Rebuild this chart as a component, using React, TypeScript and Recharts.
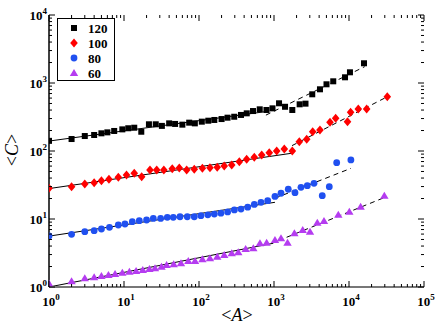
import React from 'react';
import { ComposedChart, Scatter, Line, XAxis, YAxis } from 'recharts';

// ---- data ----
const seriesNames = ['120', '100', '80', '60'];

const x120 = [1, 2, 3, 4, 5, 6, 7.4, 9.5, 11.4, 13.7, 17, 21.5, 26.5, 32, 40, 48, 60, 74, 88, 109, 133, 160, 200, 240, 295, 363, 433, 525, 645, 794, 955, 1167, 1403, 1754, 2198, 2630, 3236, 4102, 5012, 6166, 8850, 10300, 15850];
const y120 = [141, 150, 166, 172, 182, 188, 197, 208, 216, 220, 192, 247, 247, 234, 255, 250, 244, 261, 255, 270, 279, 286, 295, 309, 319, 339, 358, 387, 410, 401, 424, 503, 447, 401, 486, 497, 682, 808, 957, 1059, 1213, 1437, 1950];

const x100 = [1, 2, 3, 4, 5, 6.3, 8.4, 10.8, 13.7, 17.2, 22.2, 27.3, 34, 44, 54.6, 68.5, 86.5, 111, 140, 175, 217, 273, 345, 432, 546, 686, 865, 1086, 1372, 1754, 2175, 2730, 3281, 4100, 5580, 6640, 9550, 10500, 13300, 17200, 32400];
const y100 = [28.3, 29.9, 32.7, 34.2, 36.6, 38.4, 41, 44.4, 47, 41.9, 52.5, 52.5, 52.5, 55, 56, 52.5, 54, 55.7, 56.9, 57.6, 60, 62.2, 69.6, 75.5, 80.8, 87, 94.4, 100, 107, 100, 137, 149, 192, 204, 264, 302, 270, 371, 415, 415, 628];

const x80 = [1, 2, 3, 4, 5, 6.4, 8.4, 10.3, 12.9, 16, 20, 24.6, 30.8, 37.8, 45.4, 55.8, 69.8, 86.5, 106, 131, 160, 196, 241, 296, 363, 446, 546, 671, 824, 1030, 1240, 1550, 1905, 2290, 2780, 3415, 4400, 5460, 6850, 10600];
const y80 = [5.62, 5.96, 6.5, 6.73, 7.13, 7.55, 8.16, 8.44, 9.12, 9.44, 9.66, 10.2, 10.2, 10.6, 10.6, 10.8, 10.8, 10.8, 11.2, 11.5, 11.8, 12.2, 12.7, 13.6, 14.0, 14.9, 16.4, 17.6, 18.6, 21.5, 23.9, 27.4, 24.4, 29.2, 30.9, 33.5, 22, 29.9, 67.3, 73.8];

const x60 = [1, 2, 3, 4, 5, 6.2, 7.6, 9.5, 11.8, 14.5, 17.8, 21.8, 25.9, 31.6, 37, 46, 57.5, 72, 88.5, 111, 140, 175, 217, 273, 334, 419, 530, 650, 798, 1030, 1240, 1515, 1870, 2415, 3020, 3780, 4640, 7200, 10100, 14300, 29600];
const y60 = [1.13, 1.22, 1.34, 1.39, 1.45, 1.5, 1.55, 1.62, 1.68, 1.72, 1.78, 1.84, 1.88, 1.99, 2.11, 2.16, 2.23, 2.41, 2.41, 2.55, 2.64, 2.79, 2.95, 3.13, 3.24, 3.62, 3.71, 4.4, 4.48, 4.91, 5.2, 4.48, 6.16, 6.89, 6.5, 8.83, 9.34, 11.5, 12.8, 15.2, 22];

// fit lines: [x0, x1], [y0, y1]
const fit120SolidX = [1, 850];
const fit120SolidY = [140, 385];
const fit120DashX = [780, 16200];
const fit120DashY = [337, 1740];
const fit100SolidX = [1, 1700];
const fit100SolidY = [28, 92.5];
const fit100DashX = [1740, 32400];
const fit100DashY = [120, 628];
const fit80SolidX = [1, 1030];
const fit80SolidY = [5.6, 17.6];
const fit80DashX = [1030, 10600];
const fit80DashY = [20.2, 55.6];
const fit60SolidX = [1, 980];
const fit60SolidY = [1.0, 4.4];
const fit60DashX = [1140, 30000];
const fit60DashY = [4.8, 20.8];

const xMajorTicks = [1, 10, 100, 1000, 10000, 100000];
const yMajorTicks = [1, 10, 100, 1000, 10000];
const xTickExp = ['0', '1', '2', '3', '4', '5'];
const yTickExp = ['0', '1', '2', '3', '4'];

// ---- helpers ----
const zip = (xs: number[], ys: number[]) => xs.map((x, i) => ({ x, y: ys[i] }));
const minorTicks = (majors: number[]) => {
  const out: number[] = [];
  for (let i = 0; i < majors.length - 1; i++) {
    for (let k = 2; k <= 9; k++) out.push(majors[i] * k);
  }
  return out;
};

const W = 436, H = 327;
const LEFT = 49, RIGHT = 424, TOP = 15, BOTTOM = 287;
const FONT = '"Liberation Serif", "Times New Roman", serif';

const COLORS = { c120: '#000000', c100: '#ff0000', c80: '#2050f0', c60: '#b53cf0' };

const xAllTicks = [...xMajorTicks, ...minorTicks(xMajorTicks)].sort((a, b) => a - b);
const yAllTicks = [...yMajorTicks, ...minorTicks(yMajorTicks)].sort((a, b) => a - b);

const isMajor = (v: number, majors: number[]) => majors.some((m) => Math.abs(m - v) / m < 1e-9);

const XTick = (props: any) => {
  const { x, payload } = props;
  const v = payload.value;
  const major = isMajor(v, xMajorTicks);
  const len = major ? 6 : 3;
  const idx = xMajorTicks.findIndex((m) => Math.abs(m - v) / m < 1e-9);
  return (
    <g>
      <line x1={x} x2={x} y1={BOTTOM} y2={BOTTOM - len} stroke="#000" strokeWidth={1} />
      <line x1={x} x2={x} y1={TOP} y2={TOP + len} stroke="#000" strokeWidth={1} />
      {major && (
        <text x={x + 2} y={BOTTOM + 19} textAnchor="middle" fontFamily={FONT} fontWeight="bold" fontSize={13} fill="#000">
          10<tspan dy={-6} fontSize={9}>{xTickExp[idx]}</tspan>
        </text>
      )}
    </g>
  );
};

const YTick = (props: any) => {
  const { y, payload } = props;
  const v = payload.value;
  const major = isMajor(v, yMajorTicks);
  const len = major ? 6 : 3;
  const idx = yMajorTicks.findIndex((m) => Math.abs(m - v) / m < 1e-9);
  return (
    <g>
      <line x1={LEFT} x2={LEFT + len} y1={y} y2={y} stroke="#000" strokeWidth={1} />
      <line x1={RIGHT} x2={RIGHT - len} y1={y} y2={y} stroke="#000" strokeWidth={1} />
      {major && (
        <text x={LEFT - 2} y={y + 5} textAnchor="end" fontFamily={FONT} fontWeight="bold" fontSize={13} fill="#000">
          10<tspan dy={-6} fontSize={9}>{yTickExp[idx]}</tspan>
        </text>
      )}
    </g>
  );
};

const SquareShape = (p: any) => <rect x={p.cx - 3} y={p.cy - 3} width={6} height={6} fill={COLORS.c120} />;
const DiamondShape = (p: any) => (
  <polygon points={`${p.cx},${p.cy - 4.5} ${p.cx + 3.8},${p.cy} ${p.cx},${p.cy + 4.5} ${p.cx - 3.8},${p.cy}`} fill={COLORS.c100} />
);
const CircleShape = (p: any) => <circle cx={p.cx} cy={p.cy} r={3.4} fill={COLORS.c80} />;
const TriangleShape = (p: any) => (
  <polygon points={`${p.cx},${p.cy - 4} ${p.cx + 4.2},${p.cy + 3} ${p.cx - 4.2},${p.cy + 3}`} fill={COLORS.c60} />
);

const YLabel = () => (
  <text x={18} y={150} transform="rotate(-90, 18, 150)" textAnchor="middle" fontFamily={FONT} fontSize={18} fill="#000">
    {'<'}<tspan fontStyle="italic">C</tspan>{'>'}
  </text>
);
const XLabel = () => (
  <text x={237} y={321} textAnchor="middle" fontFamily={FONT} fontSize={18} fill="#000">
    {'<'}<tspan fontStyle="italic">A</tspan>{'>'}
  </text>
);

const LegendBox = () => {
  const rows = [
    { name: seriesNames[0], Shape: SquareShape },
    { name: seriesNames[1], Shape: DiamondShape },
    { name: seriesNames[2], Shape: CircleShape },
    { name: seriesNames[3], Shape: TriangleShape },
  ];
  return (
    <svg width={60} height={64} style={{ position: 'absolute', left: 57, top: 18 }}>
      <rect x={0.5} y={0.5} width={57} height={62} fill="#fff" stroke="#000" strokeWidth={1} />
      {rows.map((r, i) => (
        <g key={r.name}>
          <r.Shape cx={17} cy={10 + i * 15} />
          <text x={31} y={15 + i * 15} fontFamily={FONT} fontWeight="bold" fontSize={13} fill="#000">
            {r.name}
          </text>
        </g>
      ))}
    </svg>
  );
};

export default function App() {
  const d120 = zip(x120, y120);
  const d100 = zip(x100, y100);
  const d80 = zip(x80, y80);
  const d60 = zip(x60, y60);
  const fits = [
    { d: zip(fit120SolidX, fit120SolidY), dash: undefined },
    { d: zip(fit120DashX, fit120DashY), dash: '5 4' },
    { d: zip(fit100SolidX, fit100SolidY), dash: undefined },
    { d: zip(fit100DashX, fit100DashY), dash: '5 4' },
    { d: zip(fit80SolidX, fit80SolidY), dash: undefined },
    { d: zip(fit80DashX, fit80DashY), dash: '5 4' },
    { d: zip(fit60SolidX, fit60SolidY), dash: undefined },
    { d: zip(fit60DashX, fit60DashY), dash: '5 4' },
  ];
  return (
    <div style={{ position: 'absolute', left: 0, top: 0, width: W, height: H, background: '#fff' }}>
      <ComposedChart width={W} height={H} margin={{ top: TOP, right: W - RIGHT, bottom: 0, left: 0 }}>
        <XAxis
          xAxisId={0}
          dataKey="x"
          type="number"
          scale="log"
          domain={[1, 100000]}
          allowDataOverflow
          ticks={xAllTicks}
          interval={0}
          tick={<XTick />}
          tickLine={false}
          axisLine={{ stroke: '#777', strokeWidth: 2 }}
          height={H - BOTTOM}
        />
        <XAxis
          xAxisId="top"
          orientation="top"
          dataKey="x"
          type="number"
          scale="log"
          domain={[1, 100000]}
          allowDataOverflow
          tick={false}
          tickLine={false}
          axisLine={{ stroke: '#444', strokeWidth: 1 }}
          height={0}
        />
        <YAxis
          yAxisId={0}
          type="number"
          scale="log"
          domain={[1, 10000]}
          allowDataOverflow
          ticks={yAllTicks}
          interval={0}
          tick={<YTick />}
          tickLine={false}
          axisLine={{ stroke: '#000', strokeWidth: 1.5 }}
          width={LEFT}
        />
        <YAxis
          yAxisId="right"
          orientation="right"
          type="number"
          scale="log"
          domain={[1, 10000]}
          allowDataOverflow
          tick={false}
          tickLine={false}
          axisLine={{ stroke: '#444', strokeWidth: 2 }}
          width={0}
        />
        {fits.map((f, i) => (
          <Line
            key={i}
            data={f.d}
            dataKey="y"
            stroke="#000"
            strokeWidth={1}
            strokeDasharray={f.dash}
            dot={false}
            activeDot={false}
            isAnimationActive={false}
            legendType="none"
          />
        ))}
        <Scatter data={d120} dataKey="y" shape={SquareShape} isAnimationActive={false} />
        <Scatter data={d100} dataKey="y" shape={DiamondShape} isAnimationActive={false} />
        <Scatter data={d80} dataKey="y" shape={CircleShape} isAnimationActive={false} />
        <Scatter data={d60} dataKey="y" shape={TriangleShape} isAnimationActive={false} />
      </ComposedChart>
      <svg width={W} height={H} style={{ position: 'absolute', left: 0, top: 0, pointerEvents: 'none' }}>
        <YLabel />
        <XLabel />
      </svg>
      <LegendBox />
    </div>
  );
}
